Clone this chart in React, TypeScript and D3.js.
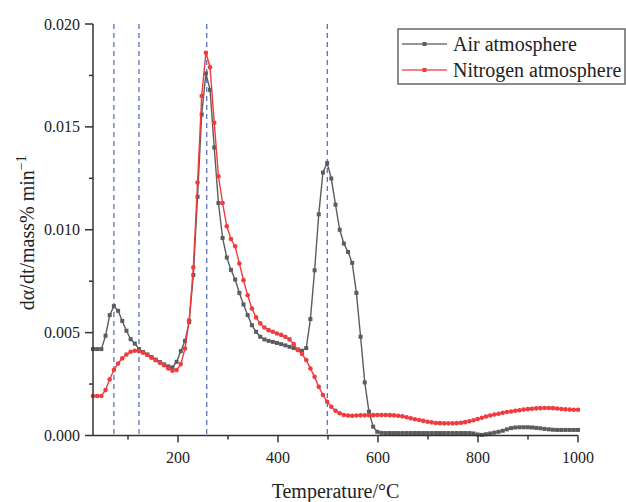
import React from "react";
import * as d3 from "d3";

// Temperature grid (°C) of the sampled points
const temps: number[] = [
  30, 38.4, 46.7, 55.1, 63.4, 71.8, 80.2, 88.5, 96.9, 105.3,
  113.6, 122.0, 130.3, 138.7, 147.1, 155.4, 163.8, 172.2, 180.5, 188.9,
  197.2, 205.6, 214.0, 222.3, 230.7, 239.1, 247.4, 255.8, 264.1, 272.5,
  280.9, 289.2, 297.6, 305.9, 314.3, 322.7, 331.0, 339.4, 347.8, 356.1,
  364.5, 372.8, 381.2, 389.6, 397.9, 406.3, 414.7, 423.0, 431.4, 439.7,
  448.1, 456.5, 464.8, 473.2, 481.5, 489.9, 498.3, 506.6, 515.0, 523.4,
  531.7, 540.1, 548.4, 556.8, 565.2, 573.5, 581.9, 590.3, 598.6, 607.0,
  615.3, 623.7, 632.1, 640.4, 648.8, 657.2, 665.5, 673.9, 682.2, 690.6,
  699.0, 707.3, 715.7, 724.0, 732.4, 740.8, 749.1, 757.5, 765.9, 774.2,
  782.6, 790.9, 799.3, 807.7, 816.0, 824.4, 832.8, 841.1, 849.5, 857.8,
  866.2, 874.6, 882.9, 891.3, 899.7, 908.0, 916.4, 924.7, 933.1, 941.5,
  949.8, 958.2, 966.6, 974.9, 983.3, 991.6, 1000,
];

// dα/dt values ×1e-3, air atmosphere
const airValues: number[] = [
  4.2, 4.2, 4.2, 4.85, 5.85, 6.29, 6.06, 5.57, 5.09, 4.68,
  4.47, 4.2, 4.06, 3.94, 3.81, 3.69, 3.57, 3.46, 3.36, 3.31,
  3.58, 4.1, 4.6, 5.52, 7.8, 11.6, 15.6, 17.6, 16.8, 14.0,
  11.3, 9.6, 8.65, 8.05, 7.58, 6.93, 6.37, 5.85, 5.36, 5.04,
  4.8, 4.67, 4.6, 4.55, 4.5, 4.44, 4.38, 4.31, 4.25, 4.18,
  4.12, 4.25, 5.66, 8.03, 10.75, 12.78, 13.24, 12.49, 11.22, 10.0,
  9.33, 8.92, 8.39, 6.93, 4.8, 2.58, 1.16, 0.43, 0.18, 0.13,
  0.12, 0.12, 0.12, 0.12, 0.12, 0.12, 0.12, 0.12, 0.12, 0.12,
  0.12, 0.12, 0.12, 0.12, 0.12, 0.12, 0.12, 0.12, 0.12, 0.12,
  0.12, 0.1, 0.05, 0.03, 0.06, 0.1, 0.14, 0.18, 0.23, 0.3,
  0.36, 0.39, 0.4, 0.4, 0.4, 0.39, 0.37, 0.35, 0.32, 0.3,
  0.28, 0.27, 0.27, 0.27, 0.27, 0.27, 0.27,
];

// dα/dt values ×1e-3, nitrogen atmosphere
const nitrogenValues: number[] = [
  1.92, 1.92, 1.92, 2.21, 2.73, 3.18, 3.5, 3.75, 3.94, 4.07,
  4.12, 4.1, 4.02, 3.91, 3.78, 3.66, 3.53, 3.42, 3.26, 3.15,
  3.18, 3.47, 4.23, 5.6, 8.17, 12.3, 16.5, 18.6, 17.9, 15.2,
  12.6, 11.3, 10.17, 9.55, 9.2, 8.36, 7.55, 6.82, 6.17, 5.74,
  5.45, 5.25, 5.12, 5.04, 4.96, 4.89, 4.8, 4.67, 4.44, 4.15,
  3.96, 3.67, 3.26, 2.85, 2.37, 1.97, 1.64, 1.4, 1.2, 1.08,
  1.0, 0.97, 0.96, 0.97, 0.98, 0.98, 0.99, 0.99, 1.0, 1.0,
  1.0, 0.99, 0.98, 0.96, 0.93, 0.89, 0.84, 0.79, 0.75, 0.71,
  0.67, 0.64, 0.61, 0.6, 0.59, 0.59, 0.59, 0.6, 0.62, 0.65,
  0.69, 0.74, 0.8, 0.86, 0.92, 0.97, 1.02, 1.06, 1.1, 1.14,
  1.17, 1.2, 1.23, 1.26, 1.28, 1.3, 1.32, 1.33, 1.34, 1.34,
  1.33, 1.31, 1.29, 1.27, 1.26, 1.25, 1.25,
];

const xTicks: number[] = [200, 400, 600, 800, 1000];
const xMinorTicks: number[] = [100, 300, 500, 700, 900];
const yTicks: number[] = [0, 0.005, 0.01, 0.015, 0.02];
const yMinorTicks: number[] = [0.0025, 0.0075, 0.0125, 0.0175];
const markerTemps: number[] = [71.8, 122.0, 257.5, 498.6];
const seriesNames: string[] = ["Air atmosphere", "Nitrogen atmosphere"];

const W = 626;
const H = 502;
const M = { left: 93, right: 48, top: 24, bottom: 66.5 };
const FONT = "'Liberation Serif', 'Times New Roman', serif";
const AIR = "#5c5c5c";
const N2 = "#f03b3f";
const AXIS = "#333333";

export default function App() {
  const x = d3.scaleLinear().domain([30, 1000]).range([M.left, W - M.right]);
  const y = d3.scaleLinear().domain([0, 0.02]).range([H - M.bottom, M.top]);
  const air = temps.map((t, i) => [t, airValues[i] / 1000] as [number, number]);
  const n2 = temps.map((t, i) => [t, nitrogenValues[i] / 1000] as [number, number]);
  const line = d3
    .line<[number, number]>()
    .x((d) => x(d[0]))
    .y((d) => y(d[1]));
  const y0 = y(0);
  const x0 = x(30);

  return (
    <svg
      width={W}
      height={H}
      style={{ position: "absolute", left: 0, top: 0, background: "#fff" }}
      fontFamily={FONT}
    >
      {/* dashed reference lines */}
      {markerTemps.map((t, i) => (
        <line
          key={"d" + i}
          x1={x(t)}
          x2={x(t)}
          y1={y(0.02)}
          y2={y0}
          stroke="#4a68c0"
          strokeWidth={1.2}
          strokeDasharray="5,4"
        />
      ))}
      {/* series */}
      <path d={line(air) || ""} fill="none" stroke={AIR} strokeWidth={1.4} />
      {air.map((d, i) => (
        <rect key={"a" + i} x={x(d[0]) - 2} y={y(d[1]) - 2} width={4} height={4} fill={AIR} />
      ))}
      <path d={line(n2) || ""} fill="none" stroke={N2} strokeWidth={1.4} />
      {n2.map((d, i) => (
        <circle key={"n" + i} cx={x(d[0])} cy={y(d[1])} r={2.3} fill={N2} />
      ))}
      {/* axes */}
      <line x1={x0} x2={x0} y1={y(0.02)} y2={y0} stroke={AXIS} strokeWidth={1.5} />
      <line x1={x0} x2={x(1000)} y1={y0} y2={y0} stroke={AXIS} strokeWidth={1.5} />
      {yTicks.map((v) => (
        <g key={"yt" + v}>
          <line x1={x0 - 8} x2={x0} y1={y(v)} y2={y(v)} stroke={AXIS} strokeWidth={1.5} />
          <text x={x0 - 13} y={y(v)} dy="0.35em" textAnchor="end" fontSize={16} fill="#222">
            {v.toFixed(3)}
          </text>
        </g>
      ))}
      {yMinorTicks.map((v) => (
        <line key={"ym" + v} x1={x0 - 4} x2={x0} y1={y(v)} y2={y(v)} stroke={AXIS} strokeWidth={1.5} />
      ))}
      {xTicks.map((v) => (
        <g key={"xt" + v}>
          <line x1={x(v)} x2={x(v)} y1={y0} y2={y0 + 7} stroke={AXIS} strokeWidth={1.5} />
          <text x={x(v)} y={y0 + 27} textAnchor="middle" fontSize={16} fill="#222">
            {v}
          </text>
        </g>
      ))}
      {xMinorTicks.map((v) => (
        <line key={"xm" + v} x1={x(v)} x2={x(v)} y1={y0} y2={y0 + 4} stroke={AXIS} strokeWidth={1.5} />
      ))}
      {/* axis titles */}
      <text x={(x0 + x(1000)) / 2} y={498} textAnchor="middle" fontSize={20} fill="#222">
        Temperature/°C
      </text>
      <text
        transform={`translate(34, ${(M.top + y0) / 2 + 3}) rotate(-90)`}
        textAnchor="middle"
        fontSize={20}
        fill="#222"
      >
        dα/dt/mass% min
        <tspan dy={-8} fontSize={14}>−1</tspan>
      </text>
      {/* legend */}
      <rect x={398} y={29} width={227} height={55} fill="#fff" stroke="#666" strokeWidth={1.5} />
      {seriesNames.map((name, i) => (
        <g key={"lg" + i}>
          <line
            x1={402}
            x2={447}
            y1={44 + i * 26}
            y2={44 + i * 26}
            stroke={i === 0 ? AIR : N2}
            strokeWidth={1.4}
            opacity={0.85}
          />
          <rect x={422.5} y={42 + i * 26} width={4} height={4} fill={i === 0 ? AIR : N2} />
          <text x={453} y={51 + i * 26} fontSize={20} fill="#222">
            {name}
          </text>
        </g>
      ))}
    </svg>
  );
}
